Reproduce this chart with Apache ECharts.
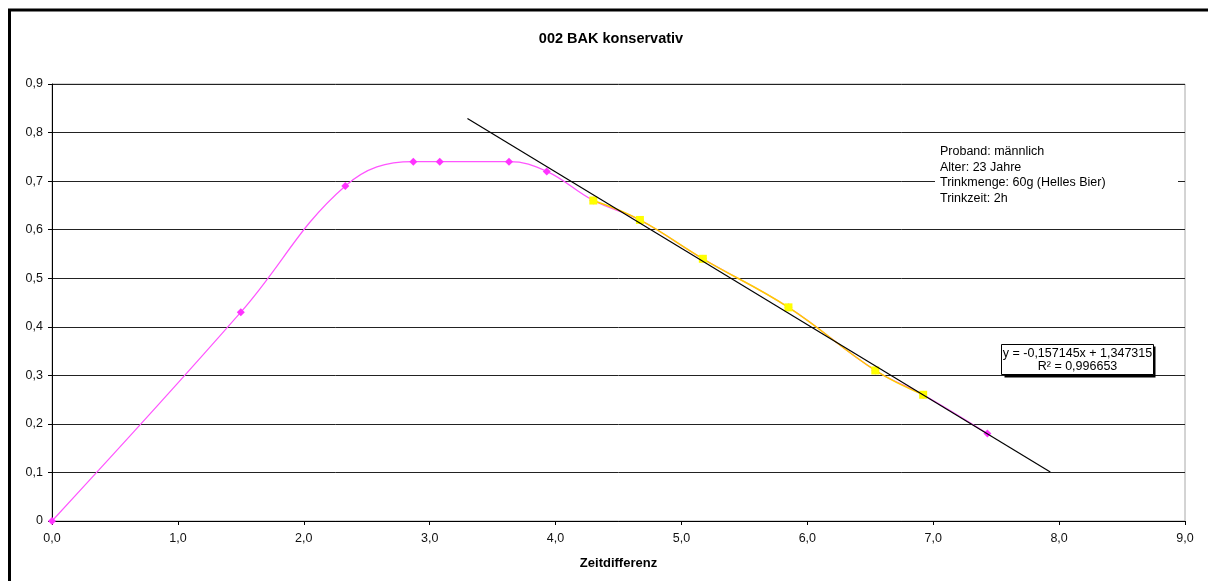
<!DOCTYPE html>
<html>
<head>
<meta charset="utf-8">
<script src="https://cdn.jsdelivr.net/npm/echarts@6/dist/echarts.min.js"></script>
<style>
html,body{margin:0;padding:0;background:#fff;}
#chart{width:1208px;height:581px;}
</style>
</head>
<body>
<div id="chart"></div>
<script>
// ---- data ----
var titleText = '002 BAK konservativ';
var xAxisName = 'Zeitdifferenz';
var bakX = [0, 1.5, 2.33, 2.87, 3.08, 3.63, 3.93, 4.3, 4.67, 5.17, 5.85, 6.54, 6.92, 7.43];
var bakY = [0, 0.43, 0.69, 0.74, 0.74, 0.74, 0.72, 0.66, 0.62, 0.54, 0.44, 0.31, 0.26, 0.18];
var elimX = [4.3, 4.67, 5.17, 5.85, 6.54, 6.92];
var elimY = [0.66, 0.62, 0.54, 0.44, 0.31, 0.26];
var trendX = [3.3, 7.93];
var trendY = [0.829, 0.101];
var infoLines = ['Proband: männlich', 'Alter: 23 Jahre', 'Trinkmenge: 60g (Helles Bier)', 'Trinkzeit: 2h'];
var equationLine = 'y = -0,157145x + 1,347315';
var r2Line = 'R² = 0,996653';

function zip(a, b) { return a.map(function (v, i) { return [v, b[i]]; }); }

var chart = echarts.init(document.getElementById('chart'), null, {renderer: 'canvas'});
var font = 'Liberation Sans, Arial, sans-serif';

chart.setOption({
  animation: false,
  backgroundColor: '#fff',
  textStyle: {fontFamily: font},
  grid: {
    left: 52, right: 23, top: 84, bottom: 60,
    show: true, borderColor: '#a8a8a8', borderWidth: 1, backgroundColor: 'transparent'
  },
  xAxis: {
    type: 'value', min: 0, max: 9, interval: 1,
    name: xAxisName, nameLocation: 'middle', nameGap: 36,
    nameTextStyle: {fontFamily: font, fontSize: 13, fontWeight: 'bold', color: '#000'},
    axisLine: {show: true, onZero: false, lineStyle: {color: '#000', width: 1}},
    axisTick: {show: true, length: 4, lineStyle: {color: '#000'}},
    splitLine: {show: false},
    axisLabel: {
      fontFamily: font, fontSize: 12.5, color: '#111', margin: 11,
      formatter: function (v) { return v.toFixed(1).replace('.', ','); }
    }
  },
  yAxis: {
    type: 'value', min: 0, max: 0.9, interval: 0.1,
    axisLine: {show: true, onZero: false, lineStyle: {color: '#000', width: 1}},
    axisTick: {show: true, length: 4, lineStyle: {color: '#000'}},
    splitLine: {show: true, lineStyle: {color: '#222', width: 1}},
    axisLabel: {
      fontFamily: font, fontSize: 12.5, color: '#111', margin: 9,
      formatter: function (v) { return v === 0 ? '0' : v.toFixed(1).replace('.', ','); }
    }
  },
  series: [
    {
      name: 'BAK', type: 'line', data: zip(bakX, bakY), smooth: 0.4,
      symbol: 'diamond', symbolSize: 8,
      lineStyle: {color: '#ff55ff', width: 1.2},
      itemStyle: {color: '#ff33ff'}, z: 2
    },
    {
      name: 'Elimination', type: 'line', data: zip(elimX, elimY), smooth: 0.4,
      symbol: 'rect', symbolSize: 8,
      lineStyle: {color: '#ffcc00', width: 1.5},
      itemStyle: {color: '#ffff00'}, z: 3
    },
    {
      name: 'Trend', type: 'line', data: zip(trendX, trendY),
      symbol: 'none', lineStyle: {color: '#000', width: 1.2}, z: 4
    }
  ],
  graphic: [
    {
      type: 'text', x: 611, y: 39, z: 60,
      style: {text: titleText, font: 'bold 14.5px ' + font, fill: '#000',
              align: 'center', verticalAlign: 'middle'}
    },
    {
      type: 'rect', shape: {x: 9.5, y: 10, width: 1400, height: 800},
      style: {fill: 'none', stroke: '#000', lineWidth: 3}, z: 100
    },
    {
      type: 'rect', shape: {x: 935, y: 141, width: 243, height: 68},
      style: {fill: '#fff'}, z: 50
    },
    {
      type: 'text', x: 940, y: 144, z: 51,
      style: {text: infoLines.join('\n'), font: '12.5px ' + font, fill: '#000', lineHeight: 15.5}
    },
    {
      type: 'rect', shape: {x: 1004.5, y: 346.5, width: 151, height: 31},
      style: {fill: '#000'}, z: 52
    },
    {
      type: 'rect', shape: {x: 1001.5, y: 344.5, width: 152, height: 30},
      style: {fill: '#fff', stroke: '#000', lineWidth: 1}, z: 53
    },
    {
      type: 'text', x: 1077.5, y: 347.5, z: 54,
      style: {text: equationLine + '\n' + r2Line, font: '12.5px ' + font, fill: '#000',
              align: 'center', lineHeight: 13}
    }
  ]
});
</script>
</body>
</html>
